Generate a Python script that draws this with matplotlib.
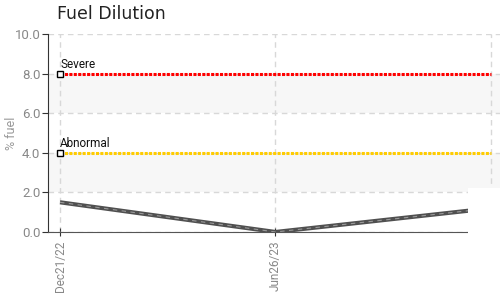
import matplotlib
matplotlib.use("Agg")
import matplotlib.pyplot as plt
from matplotlib.patches import Rectangle

dates = ["Dec21/22", "Jun26/23", ""]
fuel = [1.5, 0.0, 1.2]
severe = [8.0, 8.0, 8.0]
abnormal = [4.0, 4.0, 4.0]
yticks = [0.0, 2.0, 4.0, 6.0, 8.0, 10.0]
bands = [(2.0, 4.0), (6.0, 8.0)]

cond = "Roboto"

fig = plt.figure(figsize=(5.0, 2.98), dpi=100)
ax = fig.add_axes([0.096, 0.2215, 0.904, 0.6645])
x = list(range(len(fuel)))

for lo, hi in bands:
    ax.axhspan(lo, hi, color="#f7f7f7", zorder=0, lw=0)

ax.set_ylim(0, 10)
ax.set_xlim(-0.0557, 2.042)
ax.set_yticks(yticks)
ax.set_yticklabels([f"{v:.1f}" for v in yticks], fontfamily=cond, fontsize=9.5, color="#888888")
ax.set_xticks(x[:2])
ax.set_xticklabels(dates[:2], rotation=90, fontfamily=cond, fontsize=8.5, color="#888888")
ax.grid(True, color="#d8d8d8", linestyle=(0, (4, 3)), lw=1, zorder=1)
ax.axvline(x[2], color="#d8d8d8", linestyle=(0, (4, 3)), lw=1, zorder=1)

for s in ["top", "right"]:
    ax.spines[s].set_visible(False)
ax.spines["left"].set_color("#333333")
ax.spines["bottom"].set_color("#555555")
ax.tick_params(axis="y", direction="out", length=4, color="#333333", pad=1.5)
ax.tick_params(axis="x", direction="inout", length=6, color="#333333", pad=3)

ax.plot(x, severe, color="#ff0000", lw=2.2, linestyle=(0, (1, 0.45)), zorder=3)
ax.plot(x, abnormal, color="#ffcc00", lw=2.2, linestyle=(0, (1, 0.45)), zorder=3)
ax.plot([x[0]], [severe[0]], marker="s", ms=4.5, mfc="white", mec="black", mew=1, zorder=5)
ax.plot([x[0]], [abnormal[0]], marker="s", ms=4.5, mfc="white", mec="black", mew=1, zorder=5)
ax.text(x[0], severe[0] + 0.15, "Severe", fontfamily=cond, fontsize=8.5, color="#111111", va="bottom", ha="left")
ax.text(x[0], abnormal[0] + 0.15, "Abnormal", fontfamily=cond, fontsize=8.5, color="#111111", va="bottom", ha="left")

ax.plot(x, fuel, color="#505050", lw=3, zorder=4, solid_capstyle="butt")
ax.plot(x, fuel, color="#999999", lw=0.8, linestyle=(0, (4, 4)), zorder=4)

ax.set_ylabel("% fuel", fontfamily=cond, fontsize=9, color="#999999")
ax.yaxis.set_label_coords(-0.066, 0.5)
fig.text(0.114, 0.953, "Fuel Dilution", fontsize=12.5, color="#222222", va="center", ha="left")

fig.patches.append(Rectangle((0.936, 0.0), 0.064, 0.369, transform=fig.transFigure,
                             facecolor="white", edgecolor="none", zorder=10))

fig.savefig("out.png", dpi=100)
